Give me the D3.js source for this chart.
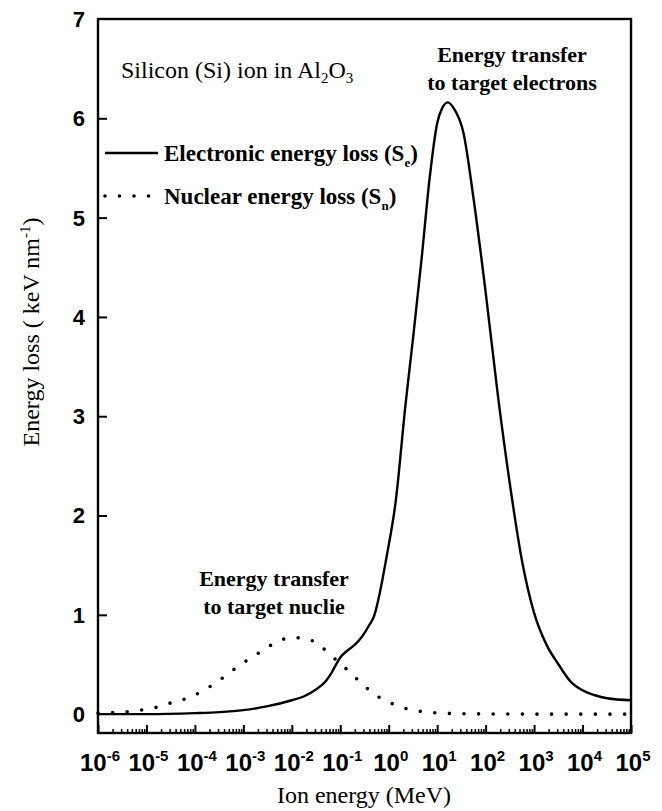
<!DOCTYPE html>
<html>
<head>
<meta charset="utf-8">
<script src="https://cdn.jsdelivr.net/npm/d3@7"></script>
<style>
  body { margin: 0; background: #fff; }
  .serif { font-family: "Liberation Serif", "Times New Roman", serif; fill: #000; }
  .ticklab { font-family: "Liberation Sans", Arial, sans-serif; font-weight: bold; fill: #000; }
  .axis path, .axis line { stroke: #000; }
</style>
</head>
<body>
<script>
// electronic energy loss (Se), ion energy in MeV
var energySe = [1e-6, 1e-5, 1e-4, 3.2e-4, 1e-3, 3.2e-3, 1e-2, 1.8e-2, 3.2e-2, 5e-2, 6.3e-2, 8e-2, 0.1, 0.14, 0.2, 0.28, 0.4, 0.5, 0.66, 0.9,
  1.4, 2.2, 3.2, 4.8, 7, 10, 12.6, 16.6, 22, 35, 56, 100, 180, 320, 560, 1000, 1800, 3200, 5600, 1e4, 1.8e4, 3.2e4, 1e5];
var lossSe = [0.00, 0.00, 0.01, 0.02, 0.04, 0.08, 0.14, 0.18, 0.25, 0.33, 0.40, 0.49, 0.57, 0.64, 0.70, 0.78, 0.90, 0.99, 1.23, 1.58,
  2.15, 3.10, 3.80, 4.60, 5.40, 5.95, 6.10, 6.16, 6.10, 5.85, 5.20, 4.25, 3.20, 2.30, 1.55, 1.02, 0.70, 0.50, 0.33, 0.24, 0.19, 0.16, 0.14];

// nuclear energy loss (Sn)
var energySn = [1e-6, 2.2e-6, 4.5e-6, 1e-5, 2e-5, 3.5e-5, 7e-5, 1.4e-4, 2.8e-4, 5.6e-4, 1.1e-3, 2.5e-3, 5e-3, 1e-2, 2e-2, 4e-2, 8e-2,
  0.16, 0.32, 0.63, 1.26, 2.5, 5, 10, 32, 100, 1000, 1e4, 1e5];
var lossSn = [0.01, 0.017, 0.025, 0.05, 0.08, 0.12, 0.16, 0.23, 0.32, 0.43, 0.53, 0.64, 0.73, 0.77, 0.76, 0.68, 0.55,
  0.42, 0.28, 0.17, 0.10, 0.05, 0.025, 0.012, 0.005, 0.002, 0, 0, 0];

// tick labels
var xTickExp = [-6, -5, -4, -3, -2, -1, 0, 1, 2, 3, 4, 5];
var yTicks = [0, 1, 2, 3, 4, 5, 6, 7];

window.onload = function() {

  var w = 662;
  var h = 811;
  var left = 98, right = 631, top = 19, bottom = 733;

  var svg = d3.select("body")
    .append("svg")
    .attr("width", w)
    .attr("height", h);

  var x = d3.scaleLog()
    .domain([1e-6, 1e5])
    .range([left, right]);

  var y = d3.scaleLinear()
    .domain([-0.19, 7])
    .range([bottom, top]);

  var majors = xTickExp.map(function(e) { return Math.pow(10, e); });
  var minors = [];
  xTickExp.slice(0, -1).forEach(function(e) {
    for (var m = 2; m < 10; m++) minors.push(m * Math.pow(10, e));
  });

  // minor x ticks
  svg.append("g")
    .attr("class", "axis")
    .attr("transform", "translate(0," + bottom + ")")
    .call(d3.axisBottom(x).tickValues(minors).tickSize(-4).tickFormat(""))
    .call(function(g) { g.select(".domain").remove(); })
    .selectAll("line").attr("stroke-width", 1.5);

  // major x ticks
  svg.append("g")
    .attr("class", "axis")
    .attr("transform", "translate(0," + bottom + ")")
    .call(d3.axisBottom(x).tickValues(majors).tickSize(-8).tickSizeOuter(0).tickFormat(""))
    .call(function(g) { g.select(".domain").remove(); })
    .selectAll("line").attr("stroke-width", 2);

  // y ticks
  svg.append("g")
    .attr("class", "axis")
    .attr("transform", "translate(" + left + ",0)")
    .call(d3.axisLeft(y).tickValues(yTicks.slice(1, -1)).tickSize(-9).tickFormat(""))
    .call(function(g) { g.select(".domain").remove(); })
    .selectAll("line").attr("stroke-width", 2);

  // frame
  svg.append("rect")
    .attr("x", left)
    .attr("y", top)
    .attr("width", right - left)
    .attr("height", bottom - top)
    .attr("fill", "none")
    .attr("stroke", "#000")
    .attr("stroke-width", 2.4);

  // x tick labels with superscript exponents
  var xl = svg.selectAll(".xlab")
    .data(xTickExp)
    .enter()
    .append("text")
    .attr("class", "ticklab")
    .attr("x", function(d) { return x(Math.pow(10, d)) + 2; })
    .attr("y", 771)
    .attr("text-anchor", "middle")
    .style("font-size", "24px");
  xl.append("tspan").text("10");
  xl.append("tspan")
    .attr("dy", -10)
    .style("font-size", "15px")
    .text(function(d) { return d; });

  // y tick labels
  svg.selectAll(".ylab")
    .data(yTicks)
    .enter()
    .append("text")
    .attr("class", "ticklab")
    .attr("x", 85)
    .attr("y", function(d) { return y(d); })
    .attr("dy", "0.36em")
    .attr("text-anchor", "end")
    .style("font-size", "22px")
    .text(function(d) { return d; });

  var line = d3.line()
    .curve(d3.curveMonotoneX);

  // electronic loss curve
  svg.append("path")
    .datum(energySe.map(function(e, i) { return [x(e), y(lossSe[i])]; }))
    .attr("d", line)
    .attr("fill", "none")
    .attr("stroke", "#000")
    .attr("stroke-width", 2.4);

  // nuclear loss curve, dotted
  svg.append("path")
    .datum(energySn.map(function(e, i) { return [x(e), y(lossSn[i])]; }))
    .attr("d", line)
    .attr("fill", "none")
    .attr("stroke", "#000")
    .attr("stroke-width", 3.6)
    .attr("stroke-linecap", "round")
    .attr("stroke-dasharray", "0,14.6");

  // title inside plot
  var t = svg.append("text")
    .attr("class", "serif")
    .attr("x", 121)
    .attr("y", 78)
    .style("font-size", "24px");
  t.append("tspan").text("Silicon (Si) ion in Al");
  t.append("tspan").attr("dy", 5).style("font-size", "15px").text("2");
  t.append("tspan").attr("dy", -5).text("O");
  t.append("tspan").attr("dy", 5).style("font-size", "15px").text("3");

  // legend
  svg.append("line")
    .attr("x1", 105).attr("x2", 158)
    .attr("y1", 153).attr("y2", 153)
    .attr("stroke", "#000")
    .attr("stroke-width", 2.4);
  var l1 = svg.append("text")
    .attr("class", "serif")
    .attr("x", 164)
    .attr("y", 161)
    .style("font-size", "23px")
    .style("font-weight", "bold");
  l1.append("tspan").text("Electronic energy loss (S");
  l1.append("tspan").attr("dy", 6).style("font-size", "13px").text("e");
  l1.append("tspan").attr("dy", -6).text(")");

  svg.append("line")
    .attr("x1", 105).attr("x2", 150)
    .attr("y1", 196).attr("y2", 196)
    .attr("stroke", "#000")
    .attr("stroke-width", 3.6)
    .attr("stroke-linecap", "round")
    .attr("stroke-dasharray", "0,14.5");
  var l2 = svg.append("text")
    .attr("class", "serif")
    .attr("x", 164)
    .attr("y", 204)
    .style("font-size", "23px")
    .style("font-weight", "bold");
  l2.append("tspan").text("Nuclear energy loss (S");
  l2.append("tspan").attr("dy", 6).style("font-size", "13px").text("n");
  l2.append("tspan").attr("dy", -6).text(")");

  // annotations
  svg.append("text")
    .attr("class", "serif")
    .attr("x", 512).attr("y", 62)
    .attr("text-anchor", "middle")
    .style("font-size", "22px").style("font-weight", "bold")
    .text("Energy transfer");
  svg.append("text")
    .attr("class", "serif")
    .attr("x", 512).attr("y", 90)
    .attr("text-anchor", "middle")
    .style("font-size", "22px").style("font-weight", "bold")
    .text("to target electrons");
  svg.append("text")
    .attr("class", "serif")
    .attr("x", 274).attr("y", 586)
    .attr("text-anchor", "middle")
    .style("font-size", "22px").style("font-weight", "bold")
    .text("Energy transfer");
  svg.append("text")
    .attr("class", "serif")
    .attr("x", 274).attr("y", 614)
    .attr("text-anchor", "middle")
    .style("font-size", "22px").style("font-weight", "bold")
    .text("to target nuclie");

  // axis titles
  svg.append("text")
    .attr("class", "serif")
    .attr("x", 364).attr("y", 803)
    .attr("text-anchor", "middle")
    .style("font-size", "24px")
    .text("Ion energy (MeV)");

  var yt = svg.append("text")
    .attr("class", "serif")
    .attr("transform", "rotate(-90)")
    .attr("x", -332).attr("y", 39)
    .attr("text-anchor", "middle")
    .style("font-size", "24px");
  yt.append("tspan").text("Energy loss ( keV nm");
  yt.append("tspan").attr("dy", -9).style("font-size", "15px").text("-1");
  yt.append("tspan").attr("dy", 9).text(")");
};
</script>
</body>
</html>
